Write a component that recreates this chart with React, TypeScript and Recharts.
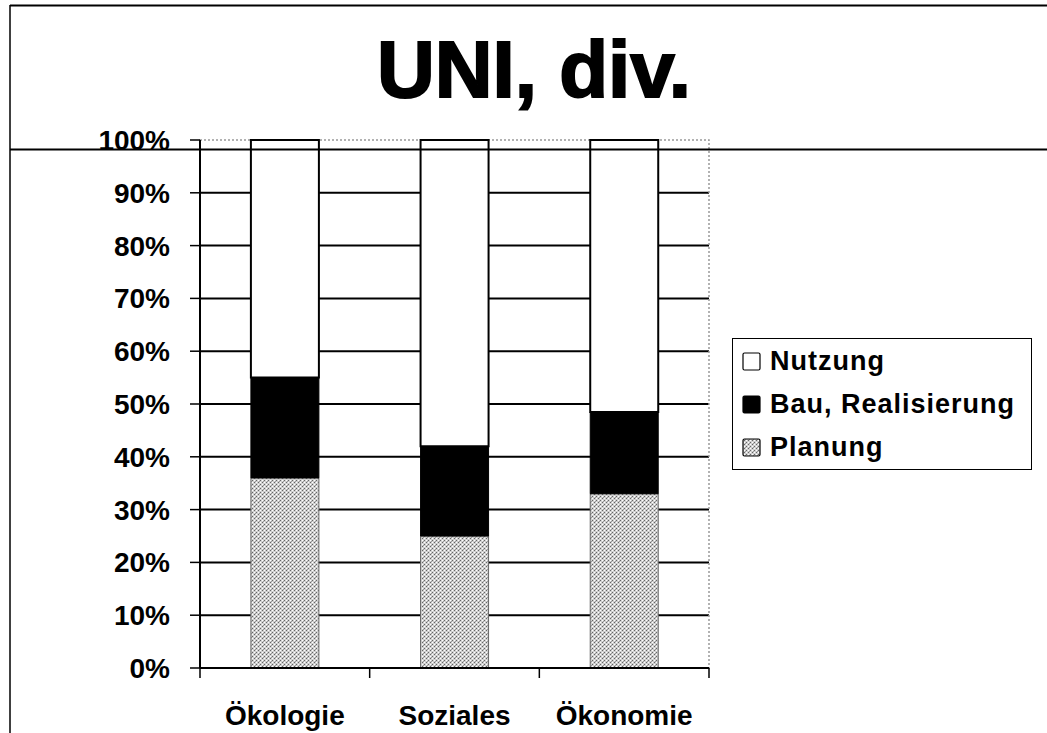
import { BarChart, Bar, XAxis, YAxis, CartesianGrid, Legend, ReferenceArea } from "recharts";

const categories = ["Ökologie", "Soziales", "Ökonomie"];
const planung = [36, 25, 33];
const bau = [19, 17, 15.5];
const nutzung = [45, 58, 51.5];
const yTicks = [0, 10, 20, 30, 40, 50, 60, 70, 80, 90, 100];
const gridValues = [10, 20, 30, 40, 50, 60, 70, 80, 90];

const seriesNames = { planung: "Planung", bau: "Bau, Realisierung", nutzung: "Nutzung" };

const data = categories.map((name, i) => ({
  name,
  planung: planung[i],
  bau: bau[i],
  nutzung: nutzung[i],
}));

const FONT = '"Liberation Sans", Arial, sans-serif';
const W = 1047;
const H = 733;
const Y_AXIS_W = 200;
const X_AXIS_H = 65;
const MARGIN = { top: 140, right: 338, bottom: 0, left: 0 };
const PLOT_W = W - Y_AXIS_W - MARGIN.right;
const AXIS_Y = H - X_AXIS_H;
const BAND = PLOT_W / categories.length;

const CategoryTick = (props: any) => {
  const { x, payload, index } = props;
  const left = x - BAND / 2;
  return (
    <g>
      <line x1={left} x2={left} y1={AXIS_Y} y2={AXIS_Y + 10} stroke="#000" strokeWidth={1.5} />
      {index === categories.length - 1 && (
        <line x1={left + BAND} x2={left + BAND} y1={AXIS_Y} y2={AXIS_Y + 10} stroke="#000" strokeWidth={1.5} />
      )}
      <text x={x} y={725} textAnchor="middle" fontFamily={FONT} fontWeight="bold" fontSize={28} fill="#000">
        {payload.value}
      </text>
    </g>
  );
};

const legendItems = [
  { key: "nutzung", fill: "#fff" },
  { key: "bau", fill: "#000" },
  { key: "planung", fill: "url(#stipple)" },
];

const renderLegend = () => (
  <div
    style={{
      border: "1.5px solid #000",
      background: "#fff",
      padding: "1px 0 0 9px",
      fontFamily: FONT,
      fontWeight: "bold",
      fontSize: 27,
      letterSpacing: 1,
      lineHeight: "43px",
    }}
  >
    {legendItems.map((it) => (
      <div key={it.key} style={{ display: "flex", alignItems: "center", whiteSpace: "nowrap" }}>
        <svg width={19} height={19} style={{ marginRight: 9 }}>
          <rect x={1} y={1} width={17} height={17} fill={it.fill} stroke="#000" strokeWidth={1.2} rx={1.5} />
        </svg>
        <span>{seriesNames[it.key as keyof typeof seriesNames]}</span>
      </div>
    ))}
  </div>
);

export default function App() {
  return (
    <div style={{ position: "absolute", left: 0, top: 0, width: W, height: H, background: "#fff" }}>
      <BarChart width={W} height={H} data={data} margin={MARGIN} barCategoryGap="30%">
        <defs>
          <pattern id="stipple" width="4" height="4" patternUnits="userSpaceOnUse">
            <rect width="4" height="4" fill="#cfcfcf" />
            <rect x="0" y="0" width="1" height="1" fill="#666" />
            <rect x="2" y="2" width="1" height="1" fill="#666" />
            <rect x="3" y="1" width="1" height="1" fill="#999" />
            <rect x="2" y="0" width="1" height="1" fill="#fff" />
            <rect x="0" y="2" width="1" height="1" fill="#fff" />
          </pattern>
        </defs>
        <CartesianGrid horizontal vertical={false} horizontalValues={gridValues} stroke="#000" strokeWidth={2} />
        <ReferenceArea y1={0} y2={100} fill="none" stroke="#999" strokeDasharray="2 2" strokeWidth={1.5} ifOverflow="visible" />
        <XAxis
          dataKey="name"
          height={X_AXIS_H}
          axisLine={{ stroke: "#000", strokeWidth: 2 }}
          tickLine={false}
          tick={<CategoryTick />}
          interval={0}
        />
        <YAxis
          width={Y_AXIS_W}
          domain={[0, 100]}
          ticks={yTicks}
          interval={0}
          tickFormatter={(v) => `${v}%`}
          axisLine={{ stroke: "#000", strokeWidth: 2 }}
          tickLine={{ stroke: "#000", strokeWidth: 1.5 }}
          tickSize={10}
          tickMargin={20}
          tick={{ fill: "#000", fontFamily: FONT, fontWeight: "bold", fontSize: 28 }}
        />
        <Bar dataKey="planung" name={seriesNames.planung} stackId="a" fill="url(#stipple)" stroke="#666" strokeWidth={1} isAnimationActive={false} />
        <Bar dataKey="bau" name={seriesNames.bau} stackId="a" fill="#000" stroke="#000" strokeWidth={1} isAnimationActive={false} />
        <Bar dataKey="nutzung" name={seriesNames.nutzung} stackId="a" fill="#fff" stroke="#000" strokeWidth={2} isAnimationActive={false} />
        <Legend
          layout="vertical"
          align="center"
          verticalAlign="middle"
          content={renderLegend}
          wrapperStyle={{ left: 732, top: 338, width: 300, height: "auto" }}
        />
      </BarChart>
      <svg width={W} height={H} style={{ position: "absolute", left: 0, top: 0, pointerEvents: "none" }}>
        <text x={534} y={97} textAnchor="middle" fontFamily={FONT} fontWeight="bold" fontSize={80} stroke="#000" strokeWidth={2} fill="#000">
          UNI, div.
        </text>
        <line x1={10} x2={W} y1={5.5} y2={5.5} stroke="#000" strokeWidth={2} />
        <line x1={10} x2={10} y1={5} y2={H} stroke="#000" strokeWidth={1.5} />
        <line x1={10} x2={W} y1={149.5} y2={149.5} stroke="#000" strokeWidth={2} />
      </svg>
    </div>
  );
}
